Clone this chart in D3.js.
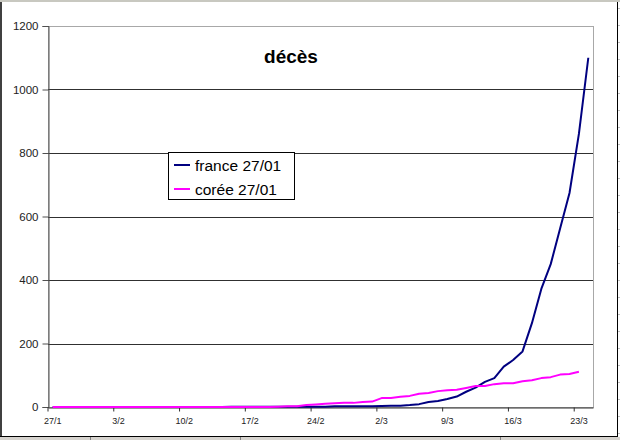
<!DOCTYPE html>
<html>
<head>
<meta charset="utf-8">
<script src="https://cdn.jsdelivr.net/npm/d3@7"></script>
<style>
  html, body { margin: 0; padding: 0; background: #fff; }
  svg { display: block; font-family: Arial, "Liberation Sans", sans-serif; }
</style>
</head>
<body>
<svg id="chart" width="620" height="440"></svg>
<script>
// ---- data ----
const dates = [
  "27/1","28/1","29/1","30/1","31/1",
  "1/2","2/2","3/2","4/2","5/2","6/2","7/2","8/2","9/2","10/2","11/2","12/2","13/2","14/2",
  "15/2","16/2","17/2","18/2","19/2","20/2","21/2","22/2","23/2","24/2","25/2","26/2","27/2","28/2","29/2",
  "1/3","2/3","3/3","4/3","5/3","6/3","7/3","8/3","9/3","10/3","11/3","12/3","13/3","14/3","15/3","16/3",
  "17/3","18/3","19/3","20/3","21/3","22/3","23/3","24/3"
];
const france = [
  0,0,0,0,0,
  0,0,0,0,0,0,0,0,0,0,0,0,0,0,
  1,1,1,1,1,1,1,1,1,1,1,2,2,2,2,
  2,3,4,4,6,9,16,19,25,33,48,61,79,91,127,148,
  175,264,372,450,562,674,860,1100
];
const coree = [
  0,0,0,0,0,
  0,0,0,0,0,0,0,0,0,0,0,0,0,0,
  0,0,0,0,0,1,2,2,6,8,10,12,13,13,16,
  17,28,28,32,35,42,44,50,53,54,60,66,66,72,75,75,
  81,84,91,94,102,104,111,null
];
const tickLabels = ["27/1","3/2","10/2","17/2","24/2","2/3","9/3","16/3","23/3"];
const yTicks = [0,200,400,600,800,1000,1200];
const seriesNames = ["france 27/01", "corée 27/01"];
const seriesColors = ["#000080", "#ff00ff"];

(function () {
const svg = d3.select("#chart");
const W = 620, H = 440;
const pL = 48, pR = 593, pT = 26, pB = 407;
const font = "Arial, 'Liberation Sans', sans-serif";

// frame (spreadsheet-like surroundings)
svg.append("rect").attr("x",0).attr("y",0).attr("width",W).attr("height",H).attr("fill","#fff");
svg.append("rect").attr("x",0).attr("y",0).attr("width",W).attr("height",2).attr("fill","#c8c8c0");
svg.append("rect").attr("x",0).attr("y",437).attr("width",W).attr("height",3).attr("fill","#d6d3ce");
svg.append("line").attr("x1",1).attr("x2",1).attr("y1",2).attr("y2",437).attr("stroke","#000").attr("stroke-width",1.5);
svg.append("line").attr("x1",0).attr("x2",618).attr("y1",436.5).attr("y2",436.5).attr("stroke","#000").attr("stroke-width",1);
svg.append("line").attr("x1",617.5).attr("x2",617.5).attr("y1",2).attr("y2",437).attr("stroke","#000").attr("stroke-width",1);
for (let yy = 8; yy < 437; yy += 17) {
  svg.append("line").attr("x1",618).attr("x2",620).attr("y1",yy+0.5).attr("y2",yy+0.5).attr("stroke","#c0c0c0");
}
[90, 240, 500, 760].forEach(xx => {
  svg.append("line").attr("x1",xx+0.5).attr("x2",xx+0.5).attr("y1",437).attr("y2",440).attr("stroke","#808080");
});

// scales
const x = d3.scaleBand().domain(dates).range([pL, pR]).paddingInner(0).paddingOuter(0);
const y = d3.scaleLinear().domain([0, 1200]).range([pB, pT]);
const bw = x.bandwidth();

// plot area border
svg.append("rect").attr("x",pL+0.5).attr("y",pT+0.5).attr("width",pR-pL).attr("height",pB-pT)
  .attr("fill","#fff").attr("stroke","#a8a8a8").attr("stroke-width",1);

// gridlines
svg.append("g").selectAll("line").data(yTicks.filter(v => v > 0 && v < 1200)).join("line")
  .attr("x1", pL).attr("x2", pR)
  .attr("y1", d => Math.round(y(d)) + 0.5).attr("y2", d => Math.round(y(d)) + 0.5)
  .attr("stroke", "#303030").attr("stroke-width", 1);

// y axis
const yAxis = svg.append("g").attr("transform", `translate(${pL+0.5},0)`)
  .call(d3.axisLeft(y).tickValues(yTicks).tickSize(6).tickPadding(4).tickFormat(d3.format("d")));
yAxis.select(".domain").attr("stroke", "#505050");
yAxis.selectAll(".tick line").attr("stroke", "#505050");
yAxis.selectAll(".tick text").attr("font-size", "11.5px").attr("fill", "#222").attr("font-family", font);

// x axis
const xAxis = svg.append("g").attr("transform", `translate(0,${pB+0.5})`)
  .call(d3.axisBottom(x).tickValues(tickLabels).tickSize(4).tickPadding(6).tickSizeOuter(0));
xAxis.select(".domain").attr("stroke", "#303030");
xAxis.selectAll(".tick line").attr("stroke", "#303030").attr("x1", -bw/2).attr("x2", -bw/2);
xAxis.selectAll(".tick text").attr("font-size", "9px").attr("fill", "#222").attr("font-family", font);

// lines
const line = d3.line()
  .defined(d => d.v !== null)
  .x(d => x(d.date) + bw/2)
  .y(d => y(d.v));

[france, coree].forEach((vals, i) => {
  const pts = dates.map((dt, k) => ({date: dt, v: vals[k]}));
  svg.append("path").datum(pts)
    .attr("fill", "none")
    .attr("stroke", seriesColors[i])
    .attr("stroke-width", 2)
    .attr("stroke-linejoin", "round")
    .attr("d", line);
});

// title
svg.append("text").attr("x", 291).attr("y", 63).attr("text-anchor", "middle")
  .attr("font-size", "19px").attr("font-weight", "bold").attr("fill", "#000").text("décès");

// legend
const lg = svg.append("g");
lg.append("rect").attr("x", 168.5).attr("y", 152.5).attr("width", 126).attr("height", 47)
  .attr("fill", "#fff").attr("stroke", "#000").attr("stroke-width", 1);
seriesNames.forEach((name, i) => {
  const cy = 165 + i * 24;
  lg.append("line").attr("x1", 174).attr("x2", 190).attr("y1", cy).attr("y2", cy)
    .attr("stroke", seriesColors[i]).attr("stroke-width", 2);
  lg.append("text").attr("x", 195).attr("y", cy + 5.5).attr("font-size", "15.5px").attr("fill", "#000").text(name);
});
})();
</script>
</body>
</html>
